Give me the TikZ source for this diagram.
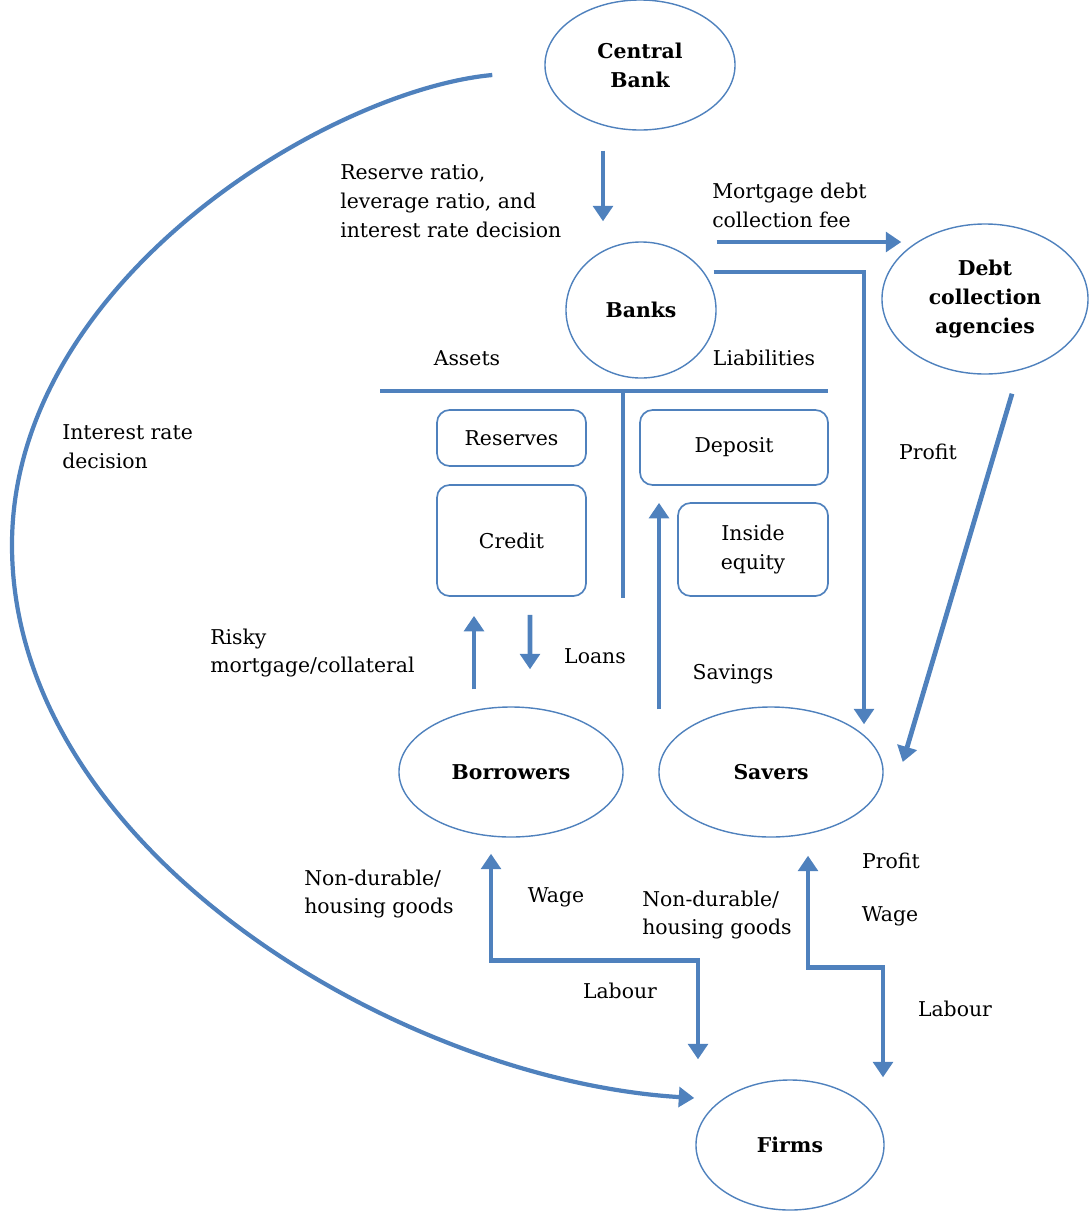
\documentclass[tikz,border=0pt]{standalone}
\usepackage{fontspec}
\setmainfont{DejaVu Serif}
\usepackage{tikz}
\usepackage{xcolor}
\usetikzlibrary{shapes.geometric,arrows.meta}
\definecolor{flowblue}{HTML}{4F81BD}

\begin{document}
\begin{tikzpicture}[x=0.025cm,y=-0.025cm,
        every node/.style={font=\fontsize{14.5}{20.6}\selectfont},
        agent/.style={draw=flowblue,line width=1pt,ellipse,inner sep=0pt,align=center,
                      font=\fontsize{14.5}{20.6}\selectfont\bfseries},
        item/.style={draw=flowblue,line width=1.2pt,rounded corners=9pt,inner sep=0pt,align=center},
        flow/.style={draw=flowblue,line width=3.4pt,-{Triangle[length=11pt,width=14pt]}},
        twoway/.style={flow,{Triangle[length=11pt,width=14pt]}-{Triangle[length=11pt,width=14pt]}},
        lbl/.style={inner sep=0pt,align=left,anchor=west}]
                \useasboundingbox (0,0) rectangle (1089,1217);
                \node[agent,minimum width=4.75cm,minimum height=3.25cm] (cb) at (640,65) {Central\\Bank};
                \node[agent,minimum width=3.75cm,minimum height=3.4cm] (banks) at (641,310) {Banks};
                \node[agent,minimum width=5.15cm,minimum height=3.75cm] (dca) at (985,299) {Debt\\collection\\agencies};
                \node[agent,minimum width=5.6cm,minimum height=3.25cm] (borrowers) at (511,772) {Borrowers};
                \node[agent,minimum width=5.6cm,minimum height=3.25cm] (savers) at (771,772) {Savers};
                \node[agent,minimum width=4.7cm,minimum height=3.25cm] (firms) at (790,1145) {Firms};
                \node[item,minimum width=3.725cm,minimum height=1.4cm] (reserves) at (511.5,438) {Reserves};
                \node[item,minimum width=3.725cm,minimum height=2.775cm] (credit) at (511.5,540.5) {Credit};
                \node[item,minimum width=4.7cm,minimum height=1.875cm] (deposit) at (734,447.5) {Deposit};
                \node[item,minimum width=3.75cm,minimum height=2.325cm] (equity) at (753,549.5) {Inside\\equity};
                \draw[flowblue,line width=3.4pt] (380,391) -- (828,391);
                \draw[flowblue,line width=3.4pt] (623,391) -- (623,598);
                \node[lbl] (policy) at (340,201) {Reserve ratio,\\leverage ratio, and\\interest rate decision};
                \node[lbl] (fee) at (712,205) {Mortgage debt\\collection fee};
                \node[lbl] (rate) at (62,447) {Interest rate\\decision};
                \node[lbl] (risky) at (210,653) {Risky\\mortgage/collateral};
                \node[lbl] (goodsb) at (304,894) {Non-durable/\\housing goods};
                \node[lbl] (goodss) at (642,915) {Non-durable/\\housing goods};
                \foreach \Name/\X/\Y/\Text in {assets/467/358/Assets, liab/764/358/Liabilities, profita/928/452/Profit,
                        loans/595/656/Loans, savings/733/674/Savings, wagea/556/897/Wage, laboura/620/991/Labour,
                        profitb/891/861/Profit, wageb/890/916/Wage, labourb/955/1009/Labour}
                \node[inner sep=0pt] (\Name) at (\X,\Y) {\Text};
                \draw[flow] ([shift={(-37,20)}]cb.south) -- ([shift={(-38,-20)}]banks.north);
                \draw[flow] ([shift={(0,-68)}]banks.east) -- ([shift={(20,-57)}]dca.west);
                \draw[flow] ([shift={(-3,-38)}]banks.east) -| ([shift={(93,18)}]savers.north);
                \draw[flow] ([shift={(27,19)}]dca.south) -- ([shift={(19,-10)}]savers.east);
                \draw[flow,line width=3pt] ([shift={(-52,10)}]cb.west) .. controls (330,90) and (12,280) .. (12,545)
                        .. controls (12,850) and (400,1080) .. ([shift={(-1,-47)}]firms.west);
                \draw[flow] ([shift={(-37,-17)}]borrowers.north) -- ([shift={(-37.5,19)}]credit.south);
                \draw[flow] ([shift={(18.5,18)}]credit.south) -- ([shift={(19,-37)}]borrowers.north);
                \draw[flow] ([shift={(-112,3)}]savers.north) -- ([shift={(-75,17)}]deposit.south);
                \draw[twoway] ([shift={(-20,16)}]borrowers.south) -- ++(0,107) -| ([shift={(-92,-20)}]firms.north);
                \draw[twoway] ([shift={(37,18)}]savers.south) -- ++(0,112) -| ([shift={(93,-2)}]firms.north);
            \end{tikzpicture}
\end{document}
